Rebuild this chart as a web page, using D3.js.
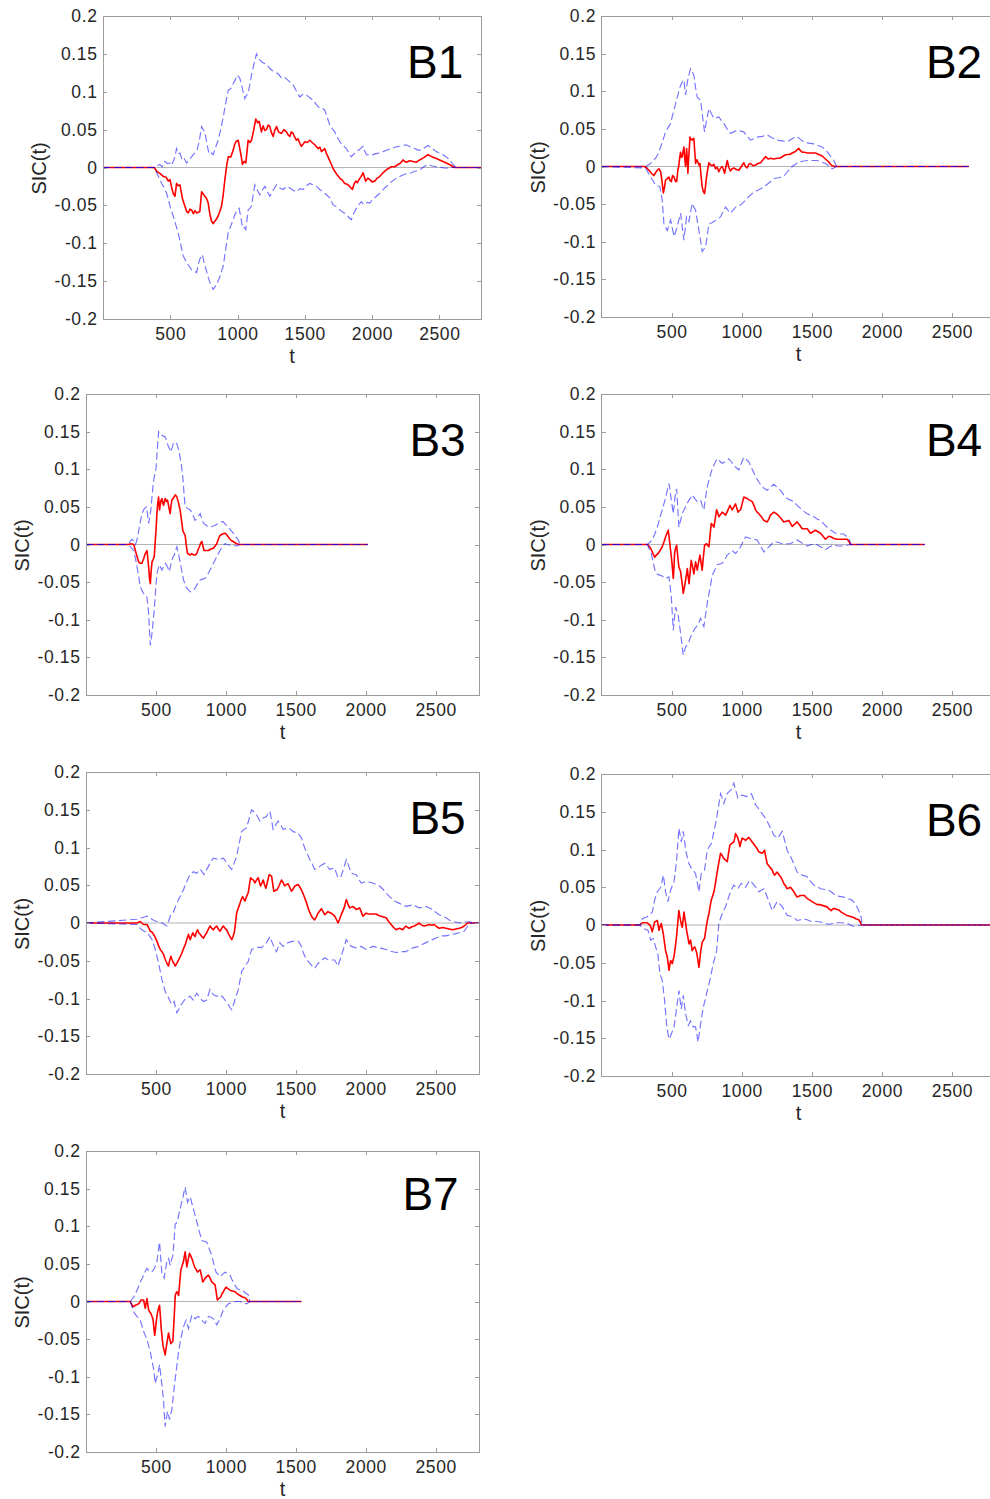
<!DOCTYPE html>
<html>
<head>
<meta charset="utf-8">
<title>SIC(t) by block</title>
<script src="https://cdn.jsdelivr.net/npm/d3@7/dist/d3.min.js"></script>
<style>
  html, body { margin: 0; padding: 0; background: #ffffff; }
  svg { display: block; }
</style>
</head>
<body>
<svg id="fig" width="990" height="1499"></svg>
<script>
// ---------- axis ticks and panel names ----------
const xTicks = [500, 1000, 1500, 2000, 2500];
const yTicks = [-0.2, -0.15, -0.1, -0.05, 0, 0.05, 0.1, 0.15, 0.2];
const tDomain = [0, 2810];
const sicDomain = [-0.2, 0.2];
const panelNames = ["B1", "B2", "B3", "B4", "B5", "B6", "B7"];

// ---------- B1: SIC(t) and its two confidence bounds, [t, value] ----------
const b1Sic = [[0,0],[380,0],[400,-0.005],[425,-0.008],[450,-0.012],[470,-0.013],[485,-0.018],[498,-0.016],[510,-0.026],[522,-0.034],[535,-0.038],[547,-0.021],[560,-0.024],[572,-0.023],[592,-0.042],[609,-0.051],[622,-0.058],[634,-0.060],[646,-0.055],[658,-0.056],[672,-0.061],[684,-0.057],[696,-0.060],[720,-0.058],[733,-0.032],[745,-0.035],[757,-0.038],[770,-0.041],[782,-0.047],[795,-0.062],[807,-0.071],[819,-0.074],[840,-0.069],[856,-0.064],[868,-0.058],[881,-0.051],[893,-0.037],[906,-0.016],[920,0.003],[931,0.014],[950,0.014],[968,0.023],[978,0.030],[988,0.034],[1005,0.036],[1017,0.025],[1027,0.015],[1037,0.004],[1050,0.008],[1062,0.006],[1079,0.036],[1092,0.033],[1104,0.036],[1121,0.050],[1136,0.064],[1150,0.059],[1161,0.061],[1178,0.047],[1190,0.055],[1203,0.049],[1215,0.050],[1228,0.056],[1240,0.054],[1252,0.046],[1265,0.041],[1277,0.049],[1290,0.054],[1305,0.047],[1327,0.045],[1345,0.050],[1364,0.047],[1376,0.043],[1389,0.041],[1400,0.047],[1413,0.045],[1425,0.040],[1438,0.036],[1450,0.038],[1463,0.032],[1475,0.028],[1488,0.031],[1500,0.034],[1518,0.033],[1537,0.036],[1555,0.033],[1574,0.030],[1599,0.025],[1612,0.027],[1624,0.021],[1636,0.023],[1648,0.025],[1660,0.019],[1673,0.014],[1685,0.009],[1698,0.004],[1710,-0.001],[1723,-0.005],[1742,-0.010],[1760,-0.014],[1780,-0.017],[1797,-0.021],[1815,-0.022],[1834,-0.025],[1854,-0.029],[1866,-0.022],[1879,-0.018],[1891,-0.020],[1903,-0.016],[1918,-0.012],[1933,-0.007],[1953,-0.018],[1968,-0.014],[1983,-0.016],[2000,-0.019],[2020,-0.018],[2038,-0.014],[2057,-0.012],[2082,-0.007],[2106,-0.003],[2125,-0.001],[2143,0.001],[2168,0.001],[2193,0.004],[2212,0.006],[2230,0.010],[2243,0.008],[2255,0.007],[2280,0.009],[2304,0.008],[2330,0.007],[2354,0.010],[2385,0.013],[2416,0.017],[2448,0.014],[2478,0.012],[2515,0.009],[2552,0.006],[2585,0.003],[2614,0],[2810,0]];
const b1Upper = [[0,0],[385,0],[399,0.002],[423,0.004],[440,0.001],[460,0.008],[480,0.005],[498,0.006],[510,0.003],[522,0.008],[535,0.014],[547,0.025],[560,0.018],[572,0.019],[585,0.012],[597,0.014],[610,0.010],[621,0.006],[640,0.010],[658,0.014],[675,0.018],[696,0.021],[715,0.034],[733,0.054],[745,0.050],[757,0.047],[770,0.034],[783,0.022],[795,0.017],[808,0.019],[819,0.017],[838,0.027],[856,0.036],[875,0.050],[894,0.067],[912,0.085],[931,0.102],[950,0.104],[968,0.111],[984,0.116],[998,0.122],[1017,0.118],[1036,0.104],[1054,0.091],[1066,0.095],[1079,0.098],[1092,0.110],[1104,0.122],[1122,0.136],[1141,0.150],[1154,0.145],[1166,0.142],[1184,0.139],[1203,0.137],[1222,0.135],[1240,0.131],[1258,0.128],[1277,0.126],[1300,0.124],[1327,0.118],[1350,0.119],[1376,0.115],[1395,0.112],[1413,0.109],[1438,0.101],[1463,0.093],[1488,0.097],[1512,0.096],[1537,0.092],[1562,0.089],[1586,0.083],[1611,0.078],[1630,0.078],[1648,0.076],[1667,0.066],[1686,0.056],[1705,0.051],[1723,0.047],[1742,0.040],[1760,0.034],[1785,0.029],[1809,0.025],[1828,0.019],[1846,0.014],[1865,0.018],[1884,0.021],[1908,0.024],[1933,0.028],[1945,0.022],[1958,0.017],[1990,0.016],[2020,0.018],[2050,0.019],[2082,0.021],[2112,0.023],[2143,0.025],[2175,0.027],[2205,0.028],[2230,0.029],[2255,0.030],[2285,0.027],[2317,0.025],[2340,0.023],[2366,0.023],[2390,0.026],[2416,0.029],[2448,0.025],[2478,0.021],[2515,0.018],[2552,0.014],[2578,0.010],[2601,0.004],[2626,0],[2810,0]];
const b1Lower = [[0,0],[380,0],[399,-0.007],[418,-0.014],[436,-0.021],[455,-0.027],[473,-0.034],[485,-0.042],[498,-0.051],[510,-0.058],[522,-0.064],[540,-0.075],[559,-0.086],[578,-0.102],[597,-0.117],[609,-0.121],[621,-0.126],[640,-0.130],[658,-0.135],[676,-0.136],[696,-0.139],[708,-0.128],[720,-0.121],[738,-0.115],[754,-0.127],[770,-0.137],[782,-0.145],[795,-0.152],[807,-0.157],[819,-0.161],[838,-0.156],[856,-0.150],[875,-0.141],[894,-0.130],[912,-0.108],[931,-0.086],[950,-0.077],[968,-0.069],[980,-0.062],[993,-0.058],[1012,-0.054],[1025,-0.066],[1037,-0.080],[1050,-0.079],[1062,-0.082],[1079,-0.056],[1092,-0.054],[1104,-0.051],[1116,-0.036],[1129,-0.023],[1147,-0.030],[1166,-0.036],[1184,-0.030],[1203,-0.025],[1222,-0.032],[1240,-0.038],[1265,-0.030],[1290,-0.023],[1315,-0.027],[1339,-0.029],[1364,-0.025],[1389,-0.027],[1413,-0.030],[1438,-0.032],[1463,-0.028],[1488,-0.029],[1512,-0.024],[1537,-0.021],[1562,-0.023],[1587,-0.025],[1611,-0.029],[1636,-0.032],[1660,-0.036],[1686,-0.040],[1698,-0.045],[1710,-0.049],[1735,-0.052],[1760,-0.056],[1785,-0.059],[1809,-0.062],[1828,-0.066],[1846,-0.069],[1865,-0.060],[1884,-0.054],[1902,-0.049],[1921,-0.045],[1933,-0.048],[1945,-0.049],[1965,-0.046],[1983,-0.047],[2000,-0.043],[2020,-0.040],[2045,-0.036],[2069,-0.032],[2094,-0.027],[2119,-0.023],[2150,-0.018],[2181,-0.014],[2205,-0.012],[2230,-0.010],[2260,-0.008],[2292,-0.007],[2322,-0.005],[2354,-0.003],[2385,0.001],[2416,0.004],[2448,0.002],[2478,0.001],[2515,0.000],[2552,-0.001],[2585,0.000],[2614,0],[2810,0]];

// ---------- B2 ----------
const b2Sic = [[0,0],[308,0],[323,-0.002],[338,-0.005],[356,-0.009],[374,-0.012],[386,-0.008],[398,-0.005],[410,-0.003],[422,-0.007],[432,-0.020],[441,-0.035],[449,-0.028],[457,-0.018],[469,-0.016],[481,-0.014],[490,-0.019],[498,-0.020],[507,-0.012],[517,-0.014],[528,-0.020],[536,-0.020],[544,-0.006],[552,0.002],[558,0.012],[564,0.019],[570,0.012],[576,0.013],[582,0.020],[588,0.026],[594,0.010],[600,0.000],[607,0.024],[612,0.010],[616,-0.009],[623,0.015],[631,0.039],[639,0.036],[647,0.035],[653,0.037],[659,0.037],[665,0.020],[671,0.004],[680,0.009],[688,0.006],[695,0.002],[702,0.004],[710,-0.012],[718,-0.027],[726,-0.033],[735,-0.036],[742,-0.026],[749,-0.014],[757,-0.004],[766,0.005],[778,0.002],[790,0.001],[802,0.003],[813,-0.003],[825,-0.001],[837,-0.007],[849,-0.002],[861,0.000],[870,-0.004],[878,-0.009],[888,0.000],[897,0.008],[908,-0.001],[920,-0.006],[932,-0.003],[944,-0.002],[962,-0.004],[980,-0.005],[997,0.000],[1015,0.005],[1027,0.000],[1039,-0.002],[1051,0.003],[1063,0.004],[1081,0.001],[1099,0.002],[1116,0.004],[1134,0.005],[1152,0.009],[1170,0.013],[1188,0.010],[1205,0.011],[1229,0.010],[1253,0.011],[1271,0.011],[1289,0.013],[1306,0.015],[1324,0.016],[1342,0.016],[1360,0.018],[1383,0.020],[1407,0.024],[1419,0.021],[1431,0.019],[1449,0.019],[1467,0.018],[1496,0.018],[1526,0.018],[1550,0.016],[1574,0.014],[1597,0.010],[1621,0.006],[1633,0.003],[1645,0.001],[1669,0],[2619,0]];
const b2Upper = [[0,0],[315,0],[332,0.002],[350,0.004],[368,0.008],[386,0.011],[404,0.017],[422,0.026],[440,0.036],[457,0.046],[475,0.052],[493,0.057],[505,0.067],[517,0.075],[529,0.084],[540,0.092],[552,0.100],[564,0.108],[576,0.112],[588,0.115],[594,0.104],[600,0.095],[606,0.104],[612,0.112],[624,0.122],[635,0.130],[647,0.126],[659,0.121],[671,0.105],[683,0.092],[695,0.090],[707,0.088],[721,0.066],[735,0.046],[750,0.062],[766,0.077],[784,0.070],[802,0.064],[820,0.065],[837,0.066],[855,0.061],[873,0.057],[896,0.050],[920,0.044],[944,0.046],[968,0.048],[992,0.047],[1015,0.046],[1039,0.040],[1063,0.035],[1087,0.037],[1110,0.039],[1146,0.040],[1182,0.042],[1218,0.038],[1253,0.035],[1289,0.034],[1324,0.033],[1360,0.037],[1395,0.040],[1419,0.036],[1443,0.033],[1478,0.031],[1514,0.030],[1544,0.028],[1574,0.026],[1597,0.022],[1621,0.017],[1640,0.012],[1657,0.008],[1676,0],[2619,0]];
const b2Lower = [[0,0],[315,-0.002],[332,-0.008],[350,-0.014],[368,-0.019],[386,-0.025],[402,-0.026],[417,-0.027],[425,-0.036],[433,-0.045],[440,-0.062],[445,-0.076],[457,-0.081],[469,-0.085],[481,-0.078],[493,-0.071],[505,-0.082],[517,-0.093],[528,-0.087],[540,-0.080],[552,-0.071],[564,-0.062],[576,-0.080],[588,-0.098],[597,-0.082],[607,-0.067],[616,-0.070],[624,-0.073],[635,-0.061],[647,-0.049],[659,-0.054],[671,-0.058],[683,-0.072],[695,-0.085],[707,-0.099],[718,-0.113],[730,-0.110],[742,-0.107],[754,-0.092],[766,-0.076],[784,-0.075],[802,-0.073],[826,-0.070],[849,-0.067],[867,-0.060],[885,-0.054],[902,-0.058],[920,-0.062],[938,-0.058],[956,-0.054],[974,-0.053],[992,-0.051],[1015,-0.047],[1039,-0.042],[1063,-0.038],[1087,-0.034],[1122,-0.031],[1158,-0.027],[1194,-0.022],[1229,-0.016],[1265,-0.015],[1300,-0.013],[1330,-0.006],[1360,0.000],[1383,0.003],[1407,0.006],[1437,0.007],[1467,0.008],[1502,0.008],[1538,0.008],[1568,0.006],[1597,0.004],[1621,0.001],[1645,-0.003],[1676,0],[2619,0]];

// ---------- B3 ----------
const b3Sic = [[0,0],[305,0],[322,0.001],[341,0.000],[353,-0.008],[365,-0.016],[376,-0.023],[388,-0.025],[400,-0.025],[412,-0.019],[424,-0.012],[436,-0.008],[448,-0.030],[454,-0.045],[460,-0.052],[466,-0.035],[472,-0.023],[480,-0.020],[488,-0.016],[495,0.004],[501,0.020],[507,0.041],[513,0.055],[519,0.063],[526,0.046],[535,0.058],[543,0.061],[549,0.055],[555,0.052],[561,0.058],[567,0.061],[575,0.057],[583,0.059],[592,0.050],[602,0.041],[608,0.052],[614,0.059],[626,0.062],[638,0.066],[650,0.063],[662,0.055],[673,0.046],[683,0.032],[692,0.019],[700,0.015],[709,0.012],[717,-0.001],[726,-0.012],[736,-0.013],[745,-0.014],[757,-0.012],[768,-0.014],[780,-0.014],[792,-0.012],[801,-0.007],[811,-0.003],[820,0.002],[828,0.004],[836,-0.002],[844,-0.008],[860,-0.008],[875,-0.008],[893,-0.006],[911,-0.005],[923,-0.002],[935,0.001],[946,0.007],[958,0.012],[976,0.014],[994,0.015],[1006,0.013],[1018,0.010],[1030,0.007],[1042,0.005],[1060,0.003],[1077,0.001],[1096,0],[2015,0]];
const b3Upper = [[0,0],[305,0],[318,0.005],[329,0.007],[341,0.005],[353,0.000],[361,0.004],[369,0.010],[384,0.026],[400,0.041],[415,0.047],[431,0.050],[440,0.040],[448,0.028],[456,0.037],[464,0.046],[474,0.068],[483,0.085],[493,0.094],[502,0.103],[510,0.127],[519,0.150],[531,0.146],[543,0.145],[555,0.144],[567,0.143],[579,0.136],[590,0.130],[599,0.127],[607,0.123],[617,0.129],[626,0.136],[638,0.135],[650,0.134],[662,0.126],[673,0.116],[683,0.104],[692,0.090],[700,0.070],[709,0.050],[727,0.048],[745,0.046],[763,0.040],[780,0.032],[798,0.036],[816,0.041],[828,0.034],[840,0.028],[864,0.025],[887,0.023],[916,0.025],[946,0.028],[964,0.030],[982,0.030],[1000,0.026],[1018,0.023],[1035,0.019],[1053,0.015],[1071,0.010],[1089,0.006],[1101,0],[2015,0]];
const b3Lower = [[0,0],[305,0],[323,-0.004],[341,-0.008],[353,-0.018],[365,-0.030],[377,-0.043],[388,-0.056],[400,-0.061],[412,-0.065],[424,-0.068],[436,-0.070],[442,-0.080],[448,-0.092],[454,-0.115],[460,-0.134],[466,-0.126],[472,-0.118],[480,-0.102],[488,-0.087],[497,-0.062],[507,-0.039],[516,-0.032],[526,-0.027],[535,-0.031],[543,-0.034],[555,-0.029],[567,-0.025],[575,-0.027],[583,-0.030],[590,-0.033],[597,-0.036],[605,-0.028],[614,-0.021],[622,-0.017],[631,-0.014],[640,-0.008],[650,-0.003],[662,-0.013],[673,-0.023],[685,-0.035],[697,-0.047],[709,-0.053],[721,-0.058],[735,-0.061],[749,-0.063],[765,-0.061],[780,-0.058],[798,-0.052],[816,-0.047],[834,-0.046],[851,-0.045],[869,-0.040],[887,-0.034],[905,-0.027],[923,-0.021],[940,-0.014],[958,-0.008],[976,-0.003],[994,0.001],[1012,0.000],[1030,-0.001],[1053,-0.001],[1077,-0.002],[1101,0],[2015,0]];

// ---------- B4 ----------
const b4Sic = [[0,0],[327,0],[338,-0.002],[350,-0.005],[365,-0.011],[379,-0.017],[391,-0.014],[403,-0.012],[418,-0.008],[433,-0.003],[445,0.003],[457,0.010],[467,0.015],[476,0.019],[485,0.005],[493,-0.008],[503,-0.025],[512,-0.045],[517,-0.030],[521,-0.012],[528,-0.005],[536,-0.001],[544,-0.016],[552,-0.030],[558,-0.033],[564,-0.036],[574,-0.050],[583,-0.065],[592,-0.056],[600,-0.047],[606,-0.040],[612,-0.032],[618,-0.042],[624,-0.052],[632,-0.037],[640,-0.021],[650,-0.030],[659,-0.039],[665,-0.031],[671,-0.023],[677,-0.028],[683,-0.034],[692,-0.024],[702,-0.014],[710,-0.024],[718,-0.034],[726,-0.018],[735,-0.001],[742,0.000],[749,0.001],[757,-0.001],[766,-0.003],[774,0.012],[783,0.028],[792,0.026],[802,0.023],[811,0.034],[821,0.046],[829,0.042],[837,0.037],[849,0.040],[861,0.043],[873,0.041],[885,0.039],[900,0.045],[916,0.052],[924,0.049],[932,0.046],[944,0.050],[956,0.054],[964,0.049],[973,0.043],[982,0.045],[992,0.046],[1003,0.054],[1015,0.063],[1027,0.062],[1039,0.061],[1057,0.059],[1075,0.057],[1087,0.052],[1099,0.046],[1110,0.043],[1122,0.041],[1140,0.037],[1158,0.032],[1170,0.031],[1182,0.030],[1194,0.034],[1205,0.039],[1217,0.041],[1229,0.043],[1247,0.041],[1265,0.038],[1283,0.034],[1300,0.030],[1318,0.031],[1336,0.032],[1348,0.028],[1360,0.024],[1378,0.027],[1395,0.030],[1413,0.026],[1431,0.021],[1449,0.021],[1467,0.021],[1479,0.018],[1490,0.015],[1508,0.017],[1526,0.019],[1544,0.017],[1562,0.015],[1580,0.011],[1597,0.007],[1609,0.009],[1621,0.011],[1639,0.010],[1657,0.008],[1680,0.007],[1704,0.007],[1728,0.007],[1752,0.007],[1765,0.004],[1775,0],[2305,0]];
const b4Upper = [[0,0],[327,0],[345,0.003],[362,0.006],[380,0.014],[398,0.023],[410,0.031],[422,0.039],[433,0.046],[445,0.054],[457,0.062],[469,0.072],[481,0.081],[490,0.070],[498,0.059],[505,0.050],[512,0.041],[521,0.058],[529,0.070],[536,0.074],[544,0.048],[552,0.023],[564,0.032],[576,0.041],[588,0.046],[600,0.050],[612,0.055],[624,0.059],[636,0.062],[647,0.066],[665,0.061],[683,0.057],[695,0.058],[707,0.059],[718,0.052],[730,0.046],[742,0.062],[754,0.077],[772,0.089],[790,0.101],[808,0.108],[825,0.114],[843,0.111],[861,0.108],[884,0.110],[908,0.114],[926,0.110],[944,0.105],[962,0.102],[980,0.099],[998,0.108],[1015,0.116],[1033,0.113],[1051,0.110],[1075,0.100],[1099,0.090],[1122,0.083],[1146,0.077],[1164,0.074],[1182,0.072],[1205,0.076],[1229,0.080],[1253,0.076],[1277,0.072],[1300,0.066],[1324,0.061],[1348,0.059],[1372,0.057],[1395,0.052],[1419,0.048],[1443,0.044],[1467,0.041],[1490,0.039],[1514,0.037],[1538,0.034],[1562,0.032],[1592,0.026],[1621,0.021],[1645,0.018],[1669,0.015],[1698,0.014],[1728,0.014],[1746,0.011],[1764,0.008],[1780,0],[2305,0]];
const b4Lower = [[0,0],[327,0],[341,-0.006],[355,-0.012],[370,-0.025],[386,-0.038],[404,-0.040],[422,-0.041],[440,-0.043],[457,-0.045],[469,-0.044],[481,-0.043],[490,-0.057],[498,-0.070],[505,-0.092],[512,-0.114],[520,-0.098],[528,-0.083],[537,-0.088],[545,-0.092],[555,-0.105],[564,-0.118],[574,-0.133],[583,-0.147],[592,-0.141],[600,-0.136],[608,-0.134],[616,-0.132],[626,-0.128],[635,-0.123],[647,-0.119],[659,-0.114],[673,-0.110],[688,-0.107],[698,-0.102],[707,-0.098],[718,-0.104],[730,-0.109],[742,-0.094],[754,-0.078],[772,-0.060],[790,-0.041],[808,-0.034],[825,-0.027],[843,-0.026],[861,-0.025],[879,-0.020],[897,-0.014],[915,-0.011],[932,-0.008],[944,-0.010],[956,-0.012],[974,-0.008],[992,-0.003],[1010,0.004],[1027,0.010],[1045,0.009],[1063,0.008],[1087,0.007],[1110,0.006],[1134,-0.002],[1158,-0.010],[1176,-0.006],[1194,-0.003],[1211,0.000],[1229,0.004],[1259,0.003],[1289,0.001],[1318,0.001],[1348,0.001],[1372,0.004],[1395,0.006],[1431,0.002],[1467,-0.002],[1496,0.000],[1526,0.001],[1562,-0.003],[1597,-0.007],[1627,-0.003],[1657,-0.001],[1692,-0.002],[1728,-0.002],[1752,-0.001],[1780,0],[2305,0]];

// ---------- B5 ----------
const b5Sic = [[0,0],[365,0],[388,0.002],[412,-0.002],[436,-0.002],[448,-0.006],[460,-0.011],[472,-0.012],[483,-0.015],[495,-0.019],[507,-0.024],[519,-0.030],[531,-0.035],[543,-0.038],[555,-0.042],[566,-0.048],[578,-0.053],[590,-0.057],[598,-0.050],[607,-0.044],[614,-0.048],[621,-0.051],[630,-0.054],[638,-0.057],[650,-0.053],[662,-0.049],[673,-0.045],[685,-0.040],[697,-0.034],[709,-0.029],[721,-0.022],[733,-0.015],[739,-0.019],[745,-0.022],[755,-0.017],[764,-0.013],[772,-0.016],[780,-0.018],[788,-0.013],[797,-0.009],[806,-0.013],[816,-0.015],[828,-0.018],[840,-0.020],[852,-0.016],[863,-0.013],[875,-0.008],[887,-0.004],[899,-0.007],[911,-0.009],[923,-0.006],[935,-0.004],[946,-0.008],[958,-0.011],[970,-0.007],[982,-0.004],[994,-0.007],[1006,-0.009],[1024,-0.016],[1042,-0.022],[1051,-0.018],[1060,-0.013],[1069,0.000],[1077,0.013],[1089,0.020],[1101,0.026],[1110,0.031],[1120,0.035],[1128,0.032],[1137,0.029],[1148,0.035],[1160,0.040],[1168,0.050],[1177,0.060],[1186,0.058],[1196,0.057],[1202,0.055],[1208,0.053],[1220,0.057],[1231,0.060],[1240,0.054],[1248,0.049],[1258,0.053],[1267,0.057],[1276,0.051],[1286,0.046],[1298,0.055],[1310,0.064],[1318,0.063],[1327,0.062],[1335,0.052],[1343,0.042],[1355,0.043],[1367,0.044],[1382,0.050],[1398,0.057],[1410,0.053],[1421,0.049],[1433,0.051],[1445,0.052],[1457,0.047],[1469,0.042],[1481,0.045],[1493,0.049],[1505,0.050],[1516,0.051],[1528,0.048],[1540,0.044],[1552,0.039],[1564,0.033],[1576,0.027],[1588,0.020],[1600,0.014],[1612,0.009],[1624,0.006],[1635,0.004],[1647,0.008],[1659,0.013],[1671,0.016],[1683,0.019],[1695,0.015],[1707,0.011],[1719,0.013],[1730,0.015],[1742,0.014],[1754,0.013],[1766,0.011],[1778,0.009],[1790,0.005],[1802,0.000],[1813,0.005],[1825,0.011],[1837,0.016],[1849,0.022],[1855,0.027],[1861,0.031],[1873,0.025],[1885,0.020],[1897,0.021],[1908,0.022],[1920,0.020],[1932,0.018],[1944,0.019],[1956,0.020],[1968,0.015],[1980,0.009],[1992,0.011],[2003,0.013],[2021,0.012],[2039,0.012],[2057,0.012],[2075,0.012],[2093,0.010],[2110,0.009],[2128,0.008],[2146,0.007],[2164,0.002],[2182,-0.002],[2200,-0.006],[2217,-0.009],[2229,-0.008],[2241,-0.007],[2253,-0.008],[2265,-0.009],[2277,-0.006],[2288,-0.004],[2300,-0.006],[2312,-0.007],[2330,-0.005],[2348,-0.004],[2366,-0.002],[2383,0.000],[2401,-0.003],[2419,-0.004],[2437,-0.003],[2455,-0.002],[2472,-0.003],[2490,-0.002],[2508,-0.005],[2526,-0.007],[2550,-0.006],[2573,-0.007],[2597,-0.008],[2621,-0.009],[2645,-0.008],[2668,-0.007],[2686,-0.006],[2704,-0.004],[2716,-0.002],[2728,0],[2810,0]];
const b5Upper = [[0,0],[365,0.005],[383,0.006],[400,0.007],[418,0.008],[436,0.009],[454,0.007],[472,0.005],[490,0.003],[507,0.002],[525,0.001],[543,0.000],[560,-0.002],[578,-0.004],[590,0.002],[602,0.009],[614,0.012],[626,0.015],[638,0.021],[650,0.026],[662,0.031],[673,0.035],[685,0.040],[697,0.044],[709,0.050],[721,0.055],[733,0.060],[745,0.064],[757,0.066],[768,0.068],[780,0.067],[792,0.066],[804,0.069],[816,0.071],[830,0.068],[844,0.064],[860,0.070],[875,0.075],[893,0.081],[911,0.086],[929,0.085],[946,0.084],[964,0.085],[982,0.086],[994,0.083],[1006,0.079],[1024,0.075],[1042,0.071],[1060,0.080],[1077,0.088],[1095,0.105],[1113,0.121],[1130,0.124],[1148,0.126],[1166,0.138],[1184,0.150],[1202,0.147],[1220,0.143],[1232,0.139],[1244,0.135],[1256,0.137],[1267,0.139],[1279,0.140],[1291,0.141],[1303,0.145],[1315,0.148],[1327,0.136],[1338,0.124],[1356,0.130],[1374,0.135],[1392,0.130],[1410,0.124],[1428,0.125],[1445,0.126],[1463,0.124],[1481,0.121],[1499,0.120],[1516,0.119],[1528,0.116],[1540,0.113],[1552,0.106],[1564,0.099],[1582,0.092],[1600,0.084],[1618,0.078],[1635,0.071],[1653,0.073],[1671,0.075],[1689,0.077],[1707,0.079],[1725,0.075],[1742,0.071],[1760,0.072],[1778,0.073],[1790,0.066],[1802,0.060],[1814,0.061],[1825,0.062],[1843,0.073],[1861,0.084],[1879,0.075],[1897,0.066],[1914,0.065],[1932,0.064],[1950,0.058],[1968,0.053],[1986,0.054],[2003,0.055],[2027,0.054],[2051,0.053],[2075,0.051],[2098,0.049],[2122,0.045],[2146,0.040],[2170,0.035],[2193,0.031],[2217,0.028],[2241,0.026],[2265,0.024],[2288,0.022],[2312,0.023],[2336,0.024],[2360,0.022],[2383,0.020],[2407,0.021],[2431,0.022],[2455,0.020],[2478,0.018],[2502,0.014],[2526,0.011],[2550,0.009],[2573,0.007],[2597,0.004],[2621,0.002],[2650,0.001],[2680,0.000],[2710,0.001],[2740,0.002],[2763,0],[2810,0]];
const b5Lower = [[0,0],[365,-0.002],[383,-0.006],[400,-0.009],[418,-0.011],[436,-0.013],[454,-0.017],[472,-0.022],[483,-0.028],[495,-0.035],[507,-0.044],[519,-0.053],[531,-0.064],[543,-0.075],[555,-0.083],[567,-0.091],[578,-0.095],[590,-0.099],[602,-0.104],[614,-0.108],[622,-0.106],[631,-0.104],[640,-0.112],[650,-0.119],[662,-0.115],[673,-0.110],[685,-0.107],[697,-0.104],[709,-0.101],[721,-0.099],[733,-0.098],[745,-0.097],[757,-0.100],[768,-0.102],[780,-0.097],[792,-0.093],[804,-0.096],[816,-0.099],[828,-0.102],[840,-0.104],[852,-0.103],[863,-0.102],[875,-0.095],[887,-0.088],[899,-0.092],[911,-0.095],[923,-0.096],[935,-0.097],[946,-0.096],[958,-0.095],[970,-0.097],[982,-0.099],[1000,-0.104],[1018,-0.108],[1030,-0.112],[1042,-0.115],[1053,-0.109],[1065,-0.102],[1077,-0.095],[1089,-0.088],[1101,-0.076],[1113,-0.064],[1125,-0.061],[1137,-0.057],[1148,-0.054],[1160,-0.051],[1172,-0.043],[1184,-0.035],[1202,-0.034],[1220,-0.033],[1238,-0.032],[1255,-0.033],[1273,-0.029],[1291,-0.026],[1303,-0.022],[1315,-0.018],[1327,-0.024],[1338,-0.029],[1350,-0.034],[1362,-0.038],[1374,-0.032],[1386,-0.026],[1398,-0.029],[1410,-0.031],[1428,-0.028],[1445,-0.026],[1463,-0.025],[1481,-0.024],[1499,-0.024],[1516,-0.024],[1528,-0.027],[1540,-0.031],[1552,-0.038],[1564,-0.044],[1582,-0.049],[1600,-0.053],[1618,-0.057],[1635,-0.060],[1653,-0.055],[1671,-0.051],[1689,-0.049],[1707,-0.046],[1725,-0.048],[1742,-0.049],[1760,-0.049],[1778,-0.049],[1790,-0.053],[1802,-0.057],[1814,-0.050],[1825,-0.044],[1843,-0.033],[1861,-0.022],[1879,-0.027],[1897,-0.031],[1914,-0.032],[1932,-0.033],[1950,-0.032],[1968,-0.031],[1986,-0.033],[2003,-0.035],[2027,-0.033],[2051,-0.031],[2075,-0.032],[2098,-0.033],[2122,-0.034],[2146,-0.035],[2170,-0.037],[2193,-0.038],[2217,-0.039],[2241,-0.039],[2265,-0.038],[2288,-0.038],[2312,-0.035],[2336,-0.033],[2360,-0.032],[2383,-0.031],[2407,-0.028],[2431,-0.026],[2455,-0.024],[2478,-0.022],[2502,-0.020],[2526,-0.018],[2550,-0.017],[2573,-0.017],[2597,-0.016],[2621,-0.015],[2645,-0.014],[2668,-0.013],[2686,-0.012],[2704,-0.011],[2722,-0.006],[2740,0],[2810,0]];

// ---------- B6 ----------
const b6Sic = [[0,0],[274,0],[291,0.003],[309,0.003],[327,0.003],[337,0.001],[346,0.000],[354,-0.004],[362,-0.009],[371,-0.002],[379,0.004],[389,0.005],[398,0.006],[404,0.000],[410,-0.007],[418,-0.002],[426,0.002],[434,-0.005],[441,-0.012],[449,-0.023],[457,-0.034],[463,-0.038],[469,-0.042],[475,-0.051],[481,-0.060],[487,-0.053],[493,-0.047],[499,-0.049],[505,-0.051],[511,-0.046],[517,-0.042],[527,-0.028],[536,-0.014],[544,0.003],[552,0.019],[558,0.012],[564,0.006],[570,0.001],[576,-0.003],[582,0.007],[588,0.017],[598,0.005],[607,-0.007],[616,-0.016],[624,-0.025],[630,-0.022],[635,-0.020],[641,-0.027],[647,-0.034],[655,-0.031],[664,-0.029],[671,-0.032],[678,-0.036],[687,-0.046],[695,-0.056],[701,-0.046],[707,-0.036],[712,-0.030],[718,-0.023],[727,-0.020],[735,-0.018],[742,-0.009],[749,0.000],[757,0.008],[766,0.015],[774,0.024],[783,0.033],[792,0.038],[802,0.044],[814,0.057],[825,0.070],[837,0.083],[849,0.095],[861,0.092],[873,0.088],[885,0.086],[897,0.084],[906,0.095],[916,0.106],[930,0.108],[944,0.110],[950,0.115],[956,0.121],[965,0.118],[973,0.115],[980,0.110],[987,0.104],[995,0.110],[1003,0.115],[1015,0.114],[1027,0.112],[1039,0.114],[1051,0.116],[1063,0.113],[1075,0.110],[1087,0.107],[1099,0.104],[1110,0.101],[1122,0.097],[1134,0.096],[1146,0.095],[1155,0.097],[1163,0.099],[1172,0.090],[1182,0.081],[1199,0.077],[1217,0.073],[1225,0.069],[1234,0.066],[1243,0.068],[1253,0.070],[1265,0.067],[1277,0.064],[1289,0.060],[1300,0.055],[1312,0.052],[1324,0.048],[1336,0.049],[1348,0.050],[1360,0.047],[1372,0.044],[1384,0.040],[1395,0.037],[1407,0.038],[1419,0.039],[1433,0.039],[1448,0.039],[1457,0.037],[1467,0.035],[1485,0.033],[1502,0.031],[1520,0.029],[1538,0.027],[1556,0.027],[1574,0.026],[1591,0.025],[1609,0.024],[1624,0.021],[1638,0.019],[1648,0.021],[1657,0.022],[1675,0.021],[1692,0.020],[1710,0.017],[1728,0.015],[1746,0.013],[1764,0.012],[1782,0.011],[1799,0.010],[1817,0.008],[1835,0.007],[1845,0.004],[1854,0],[2810,0]];
const b6Upper = [[0,0],[274,0],[291,0.008],[309,0.010],[327,0.011],[345,0.014],[362,0.017],[371,0.025],[379,0.033],[389,0.039],[398,0.044],[410,0.047],[422,0.050],[432,0.058],[441,0.066],[449,0.055],[457,0.044],[466,0.037],[474,0.031],[484,0.039],[493,0.046],[505,0.052],[517,0.057],[527,0.072],[536,0.086],[544,0.107],[552,0.128],[561,0.119],[569,0.110],[576,0.117],[583,0.124],[592,0.112],[600,0.099],[612,0.090],[624,0.081],[636,0.077],[647,0.073],[659,0.071],[671,0.068],[683,0.056],[695,0.044],[703,0.056],[711,0.068],[723,0.071],[735,0.073],[745,0.086],[754,0.099],[769,0.104],[783,0.108],[793,0.116],[802,0.124],[814,0.135],[825,0.146],[837,0.160],[849,0.174],[861,0.168],[873,0.161],[885,0.168],[897,0.174],[911,0.177],[925,0.179],[935,0.184],[944,0.188],[958,0.178],[973,0.168],[988,0.170],[1003,0.172],[1021,0.171],[1039,0.170],[1053,0.172],[1068,0.174],[1084,0.167],[1099,0.159],[1117,0.155],[1134,0.150],[1152,0.146],[1170,0.141],[1185,0.136],[1201,0.130],[1215,0.125],[1229,0.119],[1244,0.117],[1258,0.115],[1274,0.120],[1289,0.124],[1306,0.112],[1324,0.099],[1342,0.093],[1360,0.086],[1378,0.078],[1395,0.070],[1413,0.068],[1431,0.066],[1449,0.065],[1467,0.064],[1490,0.058],[1514,0.053],[1538,0.051],[1562,0.048],[1592,0.047],[1621,0.046],[1645,0.043],[1669,0.039],[1698,0.038],[1728,0.037],[1757,0.035],[1787,0.033],[1805,0.029],[1823,0.024],[1837,0.018],[1851,0.011],[1859,0],[2810,0]];
const b6Lower = [[0,0],[274,0],[289,-0.003],[303,-0.005],[317,-0.006],[331,-0.007],[341,-0.013],[350,-0.020],[360,-0.019],[369,-0.018],[378,-0.024],[386,-0.029],[395,-0.035],[403,-0.040],[410,-0.053],[417,-0.065],[425,-0.069],[433,-0.073],[442,-0.087],[450,-0.100],[457,-0.116],[464,-0.131],[472,-0.141],[481,-0.151],[490,-0.148],[498,-0.144],[508,-0.140],[517,-0.135],[527,-0.122],[536,-0.109],[544,-0.098],[552,-0.087],[560,-0.099],[569,-0.111],[576,-0.102],[583,-0.093],[592,-0.106],[600,-0.118],[610,-0.126],[619,-0.133],[627,-0.130],[635,-0.127],[645,-0.131],[654,-0.135],[662,-0.135],[671,-0.135],[680,-0.145],[688,-0.155],[698,-0.143],[707,-0.131],[716,-0.120],[726,-0.109],[738,-0.100],[749,-0.091],[761,-0.082],[773,-0.073],[785,-0.062],[797,-0.051],[809,-0.043],[821,-0.034],[829,-0.016],[837,0.002],[849,0.009],[861,0.015],[873,0.020],[885,0.024],[900,0.033],[916,0.042],[930,0.048],[944,0.053],[958,0.050],[973,0.048],[985,0.052],[996,0.055],[1012,0.053],[1027,0.050],[1043,0.055],[1058,0.059],[1073,0.056],[1087,0.053],[1105,0.049],[1122,0.044],[1140,0.046],[1158,0.048],[1170,0.043],[1182,0.037],[1200,0.028],[1217,0.019],[1235,0.025],[1253,0.031],[1271,0.028],[1289,0.024],[1306,0.019],[1324,0.013],[1342,0.012],[1360,0.011],[1378,0.009],[1395,0.006],[1419,0.007],[1443,0.008],[1467,0.007],[1490,0.005],[1526,0.005],[1562,0.004],[1592,0.002],[1621,0.001],[1651,0.002],[1680,0.003],[1716,0.003],[1752,0.002],[1776,0.000],[1799,-0.002],[1830,-0.001],[1859,0],[2810,0]];

// ---------- B7 ----------
const b7Sic = [[0,0],[317,0],[327,-0.004],[336,-0.007],[345,-0.006],[353,-0.005],[365,-0.004],[376,-0.003],[385,-0.001],[393,0.002],[403,0.002],[412,0.002],[418,-0.004],[424,-0.009],[430,-0.002],[436,0.004],[442,-0.004],[448,-0.011],[456,-0.014],[464,-0.016],[472,-0.020],[479,-0.023],[485,-0.034],[491,-0.045],[497,-0.036],[502,-0.027],[507,-0.020],[512,-0.014],[519,-0.009],[526,-0.005],[532,-0.020],[538,-0.036],[544,-0.047],[550,-0.058],[558,-0.065],[566,-0.071],[572,-0.063],[578,-0.056],[584,-0.049],[590,-0.042],[598,-0.049],[607,-0.056],[614,-0.054],[621,-0.053],[630,-0.023],[638,0.008],[644,0.011],[650,0.013],[656,0.011],[662,0.008],[670,0.025],[678,0.042],[688,0.048],[697,0.053],[703,0.060],[709,0.066],[715,0.056],[721,0.046],[730,0.055],[740,0.064],[748,0.061],[757,0.057],[766,0.052],[776,0.046],[786,0.043],[797,0.039],[806,0.041],[816,0.042],[826,0.034],[835,0.026],[843,0.028],[852,0.031],[863,0.033],[875,0.035],[887,0.031],[899,0.026],[911,0.024],[923,0.022],[931,0.012],[939,0.002],[951,0.004],[963,0.006],[972,0.010],[982,0.013],[991,0.016],[1001,0.019],[1015,0.017],[1030,0.015],[1047,0.014],[1065,0.013],[1083,0.010],[1101,0.008],[1119,0.006],[1137,0.005],[1148,0.003],[1160,0],[1540,0]];
const b7Upper = [[0,0],[317,0],[329,0.003],[341,0.006],[353,0.010],[365,0.015],[376,0.020],[388,0.026],[400,0.030],[412,0.035],[424,0.040],[436,0.044],[448,0.041],[460,0.039],[472,0.040],[483,0.042],[495,0.047],[507,0.053],[516,0.066],[526,0.079],[534,0.058],[543,0.037],[551,0.034],[559,0.031],[568,0.042],[578,0.053],[584,0.055],[590,0.057],[596,0.053],[602,0.048],[611,0.055],[621,0.061],[630,0.082],[638,0.103],[646,0.104],[654,0.106],[663,0.115],[673,0.123],[682,0.130],[692,0.137],[700,0.145],[709,0.152],[717,0.142],[726,0.132],[735,0.136],[745,0.139],[756,0.131],[768,0.123],[782,0.113],[797,0.103],[812,0.092],[828,0.081],[845,0.080],[863,0.079],[881,0.070],[899,0.061],[914,0.050],[930,0.039],[944,0.036],[958,0.033],[976,0.036],[994,0.039],[1012,0.037],[1030,0.035],[1041,0.030],[1053,0.026],[1067,0.021],[1082,0.017],[1103,0.015],[1125,0.014],[1142,0.011],[1160,0.009],[1172,0],[1540,0]];
const b7Lower = [[0,0],[317,0],[329,-0.007],[341,-0.014],[353,-0.017],[365,-0.020],[376,-0.022],[388,-0.025],[400,-0.032],[412,-0.040],[424,-0.045],[436,-0.051],[448,-0.059],[460,-0.067],[471,-0.078],[483,-0.089],[489,-0.099],[495,-0.109],[503,-0.103],[512,-0.098],[519,-0.091],[526,-0.084],[534,-0.097],[543,-0.111],[549,-0.122],[555,-0.133],[560,-0.150],[566,-0.166],[574,-0.156],[583,-0.146],[590,-0.151],[597,-0.157],[605,-0.150],[614,-0.144],[620,-0.133],[626,-0.122],[635,-0.107],[645,-0.093],[653,-0.080],[662,-0.067],[670,-0.058],[678,-0.049],[688,-0.041],[697,-0.034],[706,-0.029],[716,-0.025],[724,-0.030],[733,-0.036],[745,-0.027],[757,-0.018],[768,-0.020],[780,-0.023],[792,-0.021],[804,-0.020],[816,-0.022],[828,-0.025],[840,-0.027],[852,-0.029],[863,-0.024],[875,-0.020],[893,-0.021],[911,-0.023],[923,-0.027],[935,-0.031],[946,-0.027],[958,-0.023],[970,-0.017],[982,-0.011],[1000,-0.007],[1018,-0.003],[1035,-0.002],[1053,-0.001],[1077,0.000],[1101,0.000],[1125,-0.002],[1148,-0.003],[1172,0],[1540,0]];

// ---------- layout: plot box of each panel (px) and name-label nudge ----------
const frames = [
  { x0: 103,   x1: 481,   y0: 16,   y1: 319,  nameDx: -5, nameDy: 0 },
  { x0: 601.5, x1: 995.5, y0: 16,   y1: 317,  nameDx: 0,  nameDy: 0 },
  { x0: 86,    x1: 479,   y0: 394,  y1: 695,  nameDx: 0,  nameDy: 0 },
  { x0: 601.5, x1: 995.5, y0: 394,  y1: 695,  nameDx: 0,  nameDy: 0 },
  { x0: 86,    x1: 479,   y0: 772,  y1: 1074, nameDx: 0,  nameDy: 0 },
  { x0: 601.5, x1: 995.5, y0: 774,  y1: 1076, nameDx: 0,  nameDy: 0 },
  { x0: 86,    x1: 479,   y0: 1151, y1: 1452, nameDx: -7, nameDy: -3 }
];

const series = [
  [b1Sic, b1Upper, b1Lower],
  [b2Sic, b2Upper, b2Lower],
  [b3Sic, b3Upper, b3Lower],
  [b4Sic, b4Upper, b4Lower],
  [b5Sic, b5Upper, b5Lower],
  [b6Sic, b6Upper, b6Lower],
  [b7Sic, b7Upper, b7Lower]
];

// ---------- styling ----------
const FONT = "'Liberation Sans', Arial, Helvetica, sans-serif";
const AXIS_GRAY = "#9b9b9b";
const TEXT_COLOR = "#262626";
const ZERO_GRAY = "#b4b4b4";
const SIC_RED = "#ff0000";
const BOUND_BLUE = "#0000ff";

const svg = d3.select("#fig");
svg.append("rect").attr("width", 990).attr("height", 1499).attr("fill", "#fff");

const fmtY = d => d === 0 ? "0" : String(+d.toFixed(2));

frames.forEach((f, i) => {
  const [sic, upper, lower] = series[i];
  const x = d3.scaleLinear().domain(tDomain).range([f.x0, f.x1]);
  const y = d3.scaleLinear().domain(sicDomain).range([f.y1, f.y0]);
  const g = svg.append("g").attr("class", "panel");

  const clipId = "clip" + i;
  g.append("clipPath").attr("id", clipId)
    .append("rect").attr("x", f.x0).attr("y", f.y0)
    .attr("width", f.x1 - f.x0).attr("height", f.y1 - f.y0);

  const plot = g.append("g").attr("clip-path", `url(#${clipId})`);
  const line = d3.line().x(d => x(d[0])).y(d => y(d[1]));

  // zero reference over the sampled time span
  const tSpan = d3.extent(sic, d => d[0]);
  plot.append("line")
    .attr("x1", x(tSpan[0])).attr("x2", x(tSpan[1]))
    .attr("y1", y(0)).attr("y2", y(0))
    .attr("stroke", ZERO_GRAY).attr("stroke-width", 1);

  plot.append("path").datum(sic)
    .attr("d", line).attr("fill", "none")
    .attr("stroke", SIC_RED).attr("stroke-width", 1.6)
    .attr("stroke-linejoin", "round");

  [upper, lower].forEach(b => {
    plot.append("path").datum(b)
      .attr("d", line).attr("fill", "none")
      .attr("stroke", BOUND_BLUE).attr("stroke-opacity", 0.55)
      .attr("stroke-width", 1.15)
      .attr("stroke-dasharray", "7.5,3.5");
  });

  // axes: ticks point inward on all four sides
  const yAxis = d3.axisLeft(y).tickValues(yTicks).tickSizeInner(-4).tickSizeOuter(0)
    .tickPadding(5.5).tickFormat(fmtY);
  const xAxis = d3.axisBottom(x).tickValues(xTicks).tickSizeInner(-4).tickSizeOuter(0)
    .tickPadding(8.5).tickFormat(d3.format("d"));
  const yAxisR = d3.axisRight(y).tickValues(yTicks).tickSizeInner(-4).tickSizeOuter(0).tickFormat("");
  const xAxisT = d3.axisTop(x).tickValues(xTicks).tickSizeInner(-4).tickSizeOuter(0).tickFormat("");

  const axes = [
    g.append("g").attr("transform", `translate(${f.x0},0)`).call(yAxis),
    g.append("g").attr("transform", `translate(0,${f.y1})`).call(xAxis),
    g.append("g").attr("transform", `translate(${f.x1},0)`).call(yAxisR),
    g.append("g").attr("transform", `translate(0,${f.y0})`).call(xAxisT)
  ];
  axes.forEach(a => {
    a.select(".domain").remove();
    a.selectAll(".tick line").attr("stroke", AXIS_GRAY).attr("shape-rendering", "crispEdges");
    a.selectAll("text")
      .attr("fill", TEXT_COLOR)
      .style("font-family", FONT)
      .style("font-size", "17.5px")
      .style("letter-spacing", "0.6px");
  });

  // plot box
  g.append("rect")
    .attr("x", f.x0).attr("y", f.y0)
    .attr("width", f.x1 - f.x0).attr("height", f.y1 - f.y0)
    .attr("fill", "none").attr("stroke", AXIS_GRAY).attr("stroke-width", 1)
    .attr("shape-rendering", "crispEdges");

  // axis titles
  g.append("text")
    .attr("transform", `translate(${f.x0 - 57},${(f.y0 + f.y1) / 2 + 1}) rotate(-90)`)
    .attr("text-anchor", "middle")
    .attr("fill", TEXT_COLOR)
    .style("font-family", FONT).style("font-size", "20px")
    .text("SIC(t)");

  g.append("text")
    .attr("x", (f.x0 + f.x1) / 2).attr("y", f.y1 + 43.5)
    .attr("text-anchor", "middle")
    .attr("fill", TEXT_COLOR)
    .style("font-family", FONT).style("font-size", "20px")
    .text("t");

  // panel name, upper right inside the box
  g.append("text")
    .attr("x", x(2715) + f.nameDx).attr("y", y(0.118) + f.nameDy)
    .attr("text-anchor", "end")
    .attr("fill", "#000")
    .style("font-family", FONT).style("font-size", "46px")
    .text(panelNames[i]);
});
</script>
</body>
</html>
